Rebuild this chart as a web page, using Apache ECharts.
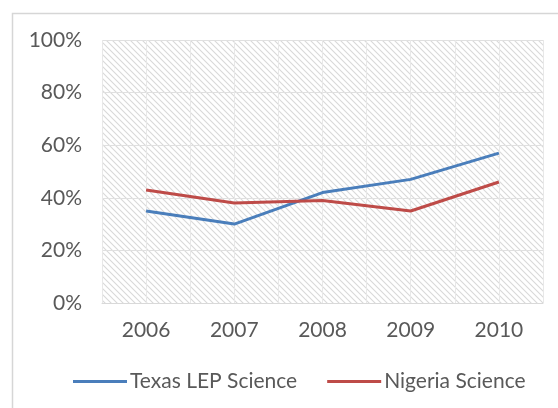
<!DOCTYPE html>
<html>
<head>
<meta charset="utf-8">
<script src="https://cdn.jsdelivr.net/npm/echarts@6/dist/echarts.min.js"></script>
<style>html,body{margin:0;padding:0;background:#fff;}#c{width:558px;height:408px;}</style>
</head>
<body>
<div id="c"></div>
<script>
const categories = ['2006', '2007', '2008', '2009', '2010'];
const texasLEP = [35, 30, 42, 47, 57];
const nigeria = [43, 38, 39, 35, 46];
const seriesNames = ['Texas LEP Science', 'Nigeria Science'];
const yTicks = [0, 20, 40, 60, 80, 100];

// hatch tile
const tile = document.createElement('canvas');
tile.width = 6; tile.height = 6;
const t = tile.getContext('2d');
t.fillStyle = '#ffffff'; t.fillRect(0, 0, 6, 6);
t.strokeStyle = '#d9d9d9'; t.lineWidth = 1.1;
t.beginPath();
t.moveTo(-1, -1); t.lineTo(7, 7);
t.moveTo(-1, 5); t.lineTo(1, 7);
t.moveTo(5, -1); t.lineTo(7, 1);
t.stroke();

const FONT = 'Lato, "Open Sans", sans-serif';
const TXT = '#595959';
const chart = echarts.init(document.getElementById('c'), null, {renderer: 'canvas'});
chart.setOption({
  animation: false,
  backgroundColor: '#ffffff',
  graphic: [{
    type: 'rect', silent: true, z: -10,
    shape: {x: 12.5, y: 13.5, width: 700, height: 600},
    style: {fill: 'none', stroke: '#d6d6d6', lineWidth: 1.5}
  }],
  grid: {
    left: 102, top: 40, right: 15, bottom: 105,
    show: true,
    backgroundColor: {image: tile, repeat: 'repeat'},
    borderWidth: 0
  },
  legend: {
    left: 68, top: 366,
    itemWidth: 54, itemHeight: 3, itemGap: 30,
    icon: 'rect',
    textStyle: {fontFamily: FONT, fontSize: 21, color: TXT, padding: [0, 0, 0, -2]},
    data: seriesNames
  },
  xAxis: [{
    type: 'category',
    data: categories,
    boundaryGap: true,
    axisLine: {show: true, lineStyle: {color: '#d9d9d9', width: 1}},
    axisTick: {show: false},
    splitLine: {show: false},
    axisLabel: {fontFamily: FONT, fontSize: 21, color: TXT, margin: 17}
  }, {
    type: 'value', min: 0, max: 10, interval: 1,
    position: 'top',
    axisLine: {show: false}, axisTick: {show: false}, axisLabel: {show: false},
    splitLine: {show: true, lineStyle: {color: '#e8e8e8', width: 1}}
  }],
  yAxis: {
    type: 'value', min: 0, max: 100, interval: 20,
    axisLine: {show: false}, axisTick: {show: false},
    splitLine: {show: true, lineStyle: {color: '#e0e0e0', width: 1}},
    axisLabel: {fontFamily: FONT, fontSize: 21, color: TXT, margin: 20,
      formatter: v => yTicks.includes(v) ? v + '%' : ''}
  },
  series: [{
    name: seriesNames[0], type: 'line', data: texasLEP,
    xAxisIndex: 0, symbol: 'none',
    lineStyle: {color: '#4A7EBB', width: 3},
    itemStyle: {color: '#4A7EBB'}
  }, {
    name: seriesNames[1], type: 'line', data: nigeria,
    xAxisIndex: 0, symbol: 'none',
    lineStyle: {color: '#BE4B48', width: 3},
    itemStyle: {color: '#BE4B48'}
  }]
});
</script>
</body>
</html>
